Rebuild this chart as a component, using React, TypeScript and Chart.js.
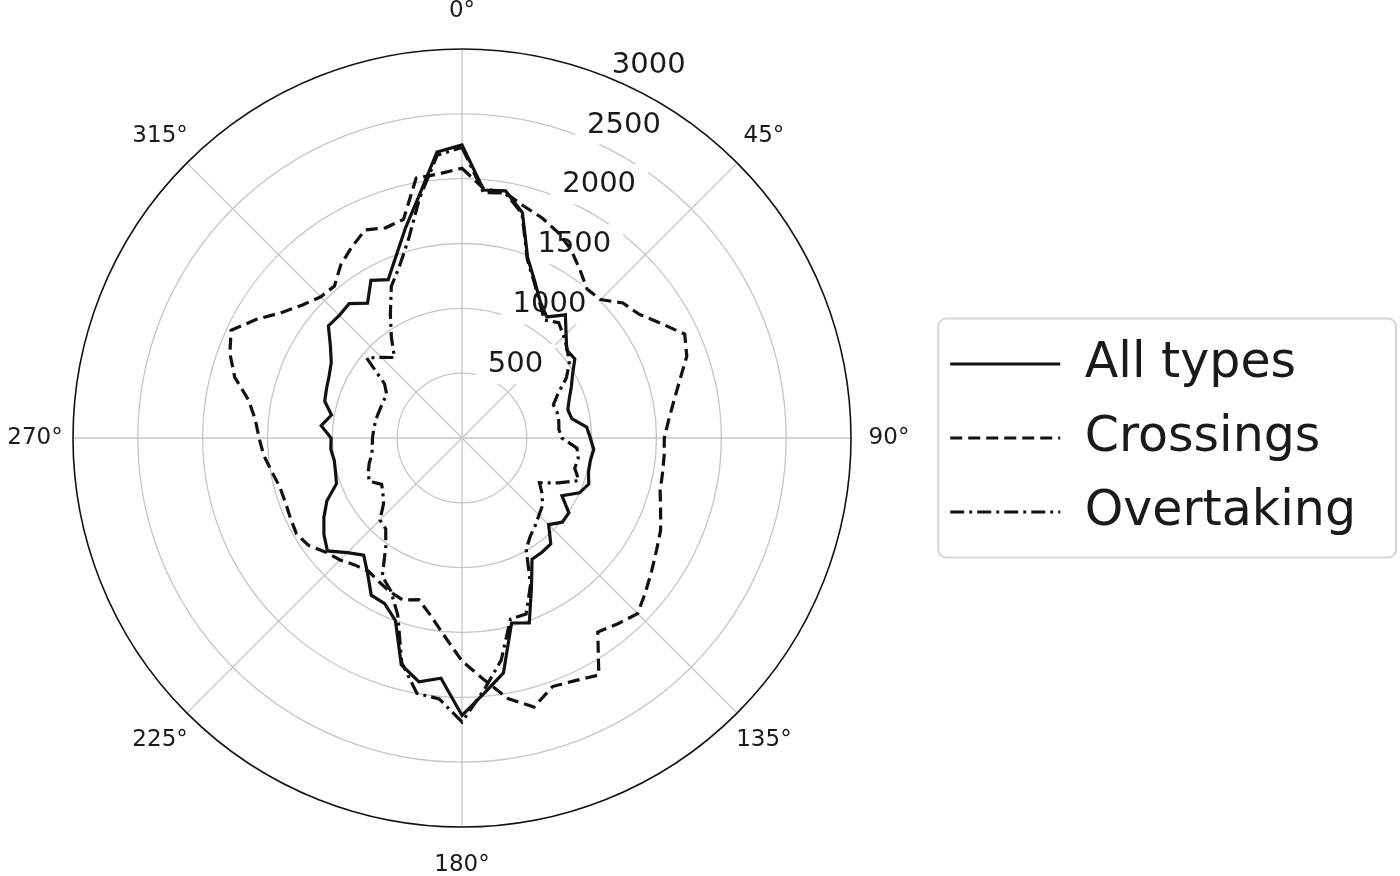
import React, { useEffect, useRef } from 'react';
import { Chart, registerables } from 'chart.js';

Chart.register(...registerables);

// Angle categories (degrees, clockwise from north), 5° bins
const ANGLE_LABELS: string[] = Array.from({ length: 72 }, (_, i) => `${i * 5}°`);

const ALL_TYPES = [
  2260, 1920, 1935, 1800, 1480, 1330, 1210, 1140, 1240, 1135, 1055, 1062,
  985, 930, 880, 845, 860, 965, 990, 1020, 1005, 1010, 1040, 1000,
  890, 1006, 1010, 945, 1065, 1075, 1080, 1268, 1518, 1477, 1840, 1975,
  2140, 1860, 1910, 1810, 1500, 1410, 1400, 1270, 1180, 1250, 1355, 1300,
  1230, 1150, 1030, 1010, 1000, 1015, 1010, 1090, 1022, 1096, 1112, 1131,
  1164, 1239, 1345, 1338, 1353, 1270, 1404, 1347, 1490, 1680, 1900, 2214,
];

const CROSSINGS = [
  2080, 1930, 1920, 1850, 1806, 1750, 1680, 1585, 1500, 1510, 1620, 1665,
  1770, 1895, 1845, 1740, 1660, 1600, 1560, 1565, 1570, 1582, 1630, 1690,
  1732, 1786, 1848, 1915, 1870, 1826, 2110, 2065, 2040, 2148, 2040, 1865,
  1720, 1535, 1390, 1290, 1330, 1310, 1280, 1255, 1280, 1330, 1370, 1445,
  1475, 1460, 1450, 1455, 1490, 1535, 1565, 1600, 1670, 1815, 1905, 1965,
  1830, 1690, 1600, 1540, 1530, 1630, 1700, 1770, 1725, 1745, 2035, 2045,
];

const OVERTAKING = [
  2240, 1900, 1920, 1790, 1470, 1320, 1200, 1110, 1160, 1110, 1060, 1010,
  930, 820, 750, 760, 758, 750, 770, 890, 910, 900, 960, 820,
  690, 755, 810, 840, 880, 920, 990, 1250, 1445, 1445, 1740, 1950,
  2190, 2020, 2000, 1795, 1450, 1300, 1230, 1025, 915, 895, 790, 745,
  715, 790, 770, 740, 705, 695, 690, 685, 680, 675, 670, 670,
  670, 730, 960, 880, 810, 950, 1105, 1290, 1410, 1590, 1880, 2190,
];

const R_TICKS = [500, 1000, 1500, 2000, 2500, 3000];
const DEGREE_TICKS = [0, 45, 90, 135, 180, 225, 270, 315];
const SERIES_NAMES = ['All types', 'Crossings', 'Overtaking'];

const FONT = '"DejaVu Sans", sans-serif';
const INK = '#111111';

export default function App() {
  const ref = useRef<HTMLCanvasElement>(null);

  useEffect(() => {
    document.body.style.margin = '0';
    document.body.style.overflow = 'hidden';
    const canvas = ref.current!;

    const decor = {
      id: 'polarDecor',
      beforeDatasetsDraw(chart: any) {
        const r = chart.scales.r;
        const ctx = chart.ctx as CanvasRenderingContext2D;
        ctx.save();
        // radial tick labels at 22.5°
        const a = (22.5 * Math.PI) / 180;
        ctx.font = `29px ${FONT}`;
        ctx.textAlign = 'left';
        ctx.textBaseline = 'alphabetic';
        R_TICKS.forEach((v) => {
          const d = r.getDistanceFromCenterForValue(v);
          const x = r.xCenter + d * Math.sin(a) + 1;
          const y = r.yCenter - d * Math.cos(a) - 6;
          const txt = String(v);
          const w = ctx.measureText(txt).width;
          ctx.fillStyle = '#ffffff';
          ctx.fillRect(x - 12, y - 28, w + 24, 40);
          ctx.fillStyle = '#1a1a1a';
          ctx.fillText(txt, x, y);
        });
        // outer spine
        ctx.beginPath();
        ctx.arc(r.xCenter, r.yCenter, r.drawingArea, 0, Math.PI * 2);
        ctx.strokeStyle = INK;
        ctx.lineWidth = 1.6;
        ctx.stroke();
        // angle labels
        ctx.font = `23px ${FONT}`;
        ctx.textAlign = 'center';
        ctx.textBaseline = 'middle';
        ctx.fillStyle = '#1a1a1a';
        DEGREE_TICKS.forEach((deg) => {
          const rad = (deg * Math.PI) / 180;
          const d = r.drawingArea + 38;
          ctx.fillText(`${deg}°`, r.xCenter + d * Math.sin(rad), r.yCenter - d * Math.cos(rad));
        });
        ctx.restore();
      },
      afterDraw(chart: any) {
        const lg = chart.legend;
        if (!lg) return;
        const ctx = chart.ctx as CanvasRenderingContext2D;
        const x = lg.left + 13;
        const y = 318.5;
        const w = 1396 - x;
        const h = 239;
        const rr = 8;
        ctx.save();
        ctx.beginPath();
        ctx.moveTo(x + rr, y);
        ctx.lineTo(x + w - rr, y);
        ctx.arcTo(x + w, y, x + w, y + rr, rr);
        ctx.lineTo(x + w, y + h - rr);
        ctx.arcTo(x + w, y + h, x + w - rr, y + h, rr);
        ctx.lineTo(x + rr, y + h);
        ctx.arcTo(x, y + h, x, y + h - rr, rr);
        ctx.lineTo(x, y + rr);
        ctx.arcTo(x, y, x + rr, y, rr);
        ctx.closePath();
        ctx.strokeStyle = '#d6d6d6';
        ctx.lineWidth = 2;
        ctx.stroke();
        ctx.restore();
      },
    };

    const chart = new Chart(canvas, {
      type: 'radar',
      data: {
        labels: ANGLE_LABELS,
        datasets: [
          {
            label: SERIES_NAMES[0],
            data: ALL_TYPES,
            borderColor: INK,
            backgroundColor: 'transparent',
            borderWidth: 3.2,
            pointRadius: 0,
            fill: false,
          },
          {
            label: SERIES_NAMES[1],
            data: CROSSINGS,
            borderColor: INK,
            backgroundColor: 'transparent',
            borderWidth: 3.2,
            borderDash: [12, 6],
            pointRadius: 0,
            fill: false,
          },
          {
            label: SERIES_NAMES[2],
            data: OVERTAKING,
            borderColor: INK,
            backgroundColor: 'transparent',
            borderWidth: 3.2,
            borderDash: [14, 5, 3, 5],
            pointRadius: 0,
            fill: false,
          },
        ],
      },
      options: {
        responsive: false,
        maintainAspectRatio: false,
        animation: false,
        devicePixelRatio: 1,
        events: [],
        layout: { padding: { left: 0, right: 34, top: 49, bottom: 49 } },
        elements: { line: { tension: 0, borderJoinStyle: 'miter' } },
        scales: {
          r: {
            min: 0,
            max: 3000,
            ticks: { display: false, stepSize: 500 },
            pointLabels: { display: false },
            grid: {
              circular: true,
              color: (c: any) => (c.tick && c.tick.value === 3000 ? 'transparent' : '#c6c6c6'),
              lineWidth: 1.3,
            },
            angleLines: {
              color: '#c6c6c6',
              lineWidth: (c: any) => (c.index % 9 === 0 ? 1.3 : 0),
            },
          },
        },
        plugins: {
          tooltip: { enabled: false },
          legend: {
            position: 'right',
            labels: {
              usePointStyle: true,
              pointStyle: 'line',
              pointStyleWidth: 110,
              padding: 25,
              color: '#1a1a1a',
              font: { family: FONT, size: 49 },
              generateLabels: (ch: any) =>
                Chart.defaults.plugins.legend.labels.generateLabels(ch).map((item: any) => {
                  const ds: any = ch.data.datasets[item.datasetIndex];
                  return {
                    ...item,
                    lineDash: ds.borderDash || [],
                    lineWidth: 3,
                    strokeStyle: INK,
                    pointStyle: 'line',
                    lineCap: 'butt',
                  };
                }),
            },
          },
        },
      },
      plugins: [decor],
    } as any);

    return () => chart.destroy();
  }, []);

  return (
    <div style={{ width: 1400, height: 876, background: '#fff' }}>
      <canvas ref={ref} width={1400} height={876} style={{ display: 'block' }} />
    </div>
  );
}
